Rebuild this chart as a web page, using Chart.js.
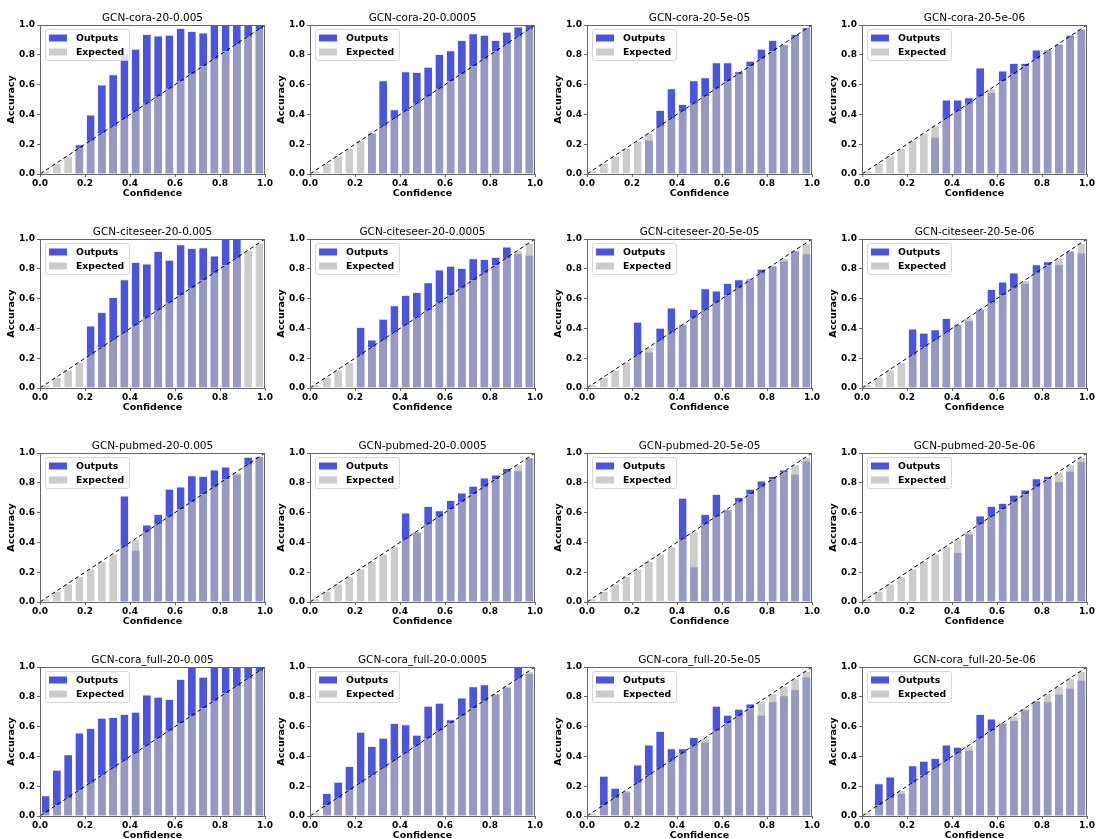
<!DOCTYPE html>
<html>
<head>
<meta charset="utf-8">
<script src="https://cdn.jsdelivr.net/npm/chart.js@4.4.0/dist/chart.umd.min.js"></script>
<style>
  body { margin: 0; background: #fff; overflow: hidden; }
  #fig { position: relative; width: 1098px; height: 839px; overflow: hidden; }
  #fig canvas { position: absolute; }
</style>
</head>
<body>
<div id="fig"></div>
<script>
// 20 confidence bins of width 0.05
const binCenters = [0.025, 0.075, 0.125, 0.175, 0.225, 0.275, 0.325, 0.375, 0.425, 0.475,
                    0.525, 0.575, 0.625, 0.675, 0.725, 0.775, 0.825, 0.875, 0.925, 0.975];
// expected accuracy = mean confidence of the bin
const expected = [0.025, 0.075, 0.125, 0.175, 0.225, 0.275, 0.325, 0.375, 0.425, 0.475,
                  0.525, 0.575, 0.625, 0.675, 0.725, 0.775, 0.825, 0.875, 0.925, 0.975];
const tickValues = [0, 0.2, 0.4, 0.6, 0.8, 1.0];

// observed accuracy per bin (0 = empty bin)
const cora_0005 = [0, 0, 0, 0.20, 0.40, 0.60, 0.67, 0.81, 0.84, 0.94, 0.93, 0.935, 0.98, 0.96, 0.95, 1.0, 1.0, 1.0, 1.0, 1.0];
const cora_00005 = [0, 0, 0, 0, 0, 0.28, 0.63, 0.435, 0.69, 0.685, 0.72, 0.805, 0.83, 0.90, 0.945, 0.935, 0.90, 0.955, 0.99, 1.0];
const cora_5e05 = [0, 0, 0, 0, 0, 0.23, 0.43, 0.575, 0.47, 0.63, 0.65, 0.75, 0.75, 0.69, 0.76, 0.84, 0.90, 0.87, 0.94, 0.985];
const cora_5e06 = [0, 0, 0, 0, 0, 0, 0.25, 0.50, 0.50, 0.515, 0.715, 0.55, 0.695, 0.745, 0.745, 0.835, 0.835, 0.875, 0.935, 0.975];

const citeseer_0005 = [0, 0, 0, 0, 0.42, 0.51, 0.61, 0.73, 0.845, 0.835, 0.92, 0.86, 0.965, 0.94, 0.945, 0.89, 1.0, 1.0, 0, 0];
const citeseer_00005 = [0, 0, 0, 0, 0.41, 0.325, 0.465, 0.555, 0.625, 0.645, 0.71, 0.795, 0.82, 0.805, 0.87, 0.865, 0.88, 0.95, 0.905, 0.895];
const citeseer_5e05 = [0, 0, 0, 0, 0.445, 0.245, 0.405, 0.54, 0.43, 0.53, 0.67, 0.655, 0.705, 0.73, 0.735, 0.80, 0.82, 0.855, 0.925, 0.905];
const citeseer_5e06 = [0, 0, 0, 0, 0.40, 0.37, 0.395, 0.47, 0.43, 0.455, 0.53, 0.665, 0.715, 0.775, 0.705, 0.83, 0.85, 0.83, 0.92, 0.91];

const pubmed_0005 = [0, 0, 0, 0, 0, 0, 0, 0.715, 0.35, 0.52, 0.59, 0.76, 0.775, 0.85, 0.845, 0.89, 0.91, 0.86, 0.975, 0.98];
const pubmed_00005 = [0, 0, 0, 0, 0, 0, 0, 0, 0.60, 0.47, 0.645, 0.615, 0.685, 0.735, 0.78, 0.835, 0.855, 0.90, 0.885, 0.97];
const pubmed_5e05 = [0, 0, 0, 0, 0, 0, 0, 0, 0.70, 0.24, 0.59, 0.725, 0.625, 0.705, 0.76, 0.815, 0.845, 0.89, 0.86, 0.95];
const pubmed_5e06 = [0, 0, 0, 0, 0, 0, 0, 0, 0.335, 0.46, 0.58, 0.645, 0.665, 0.72, 0.755, 0.83, 0.845, 0.81, 0.88, 0.945];

const corafull_0005 = [0.14, 0.31, 0.415, 0.56, 0.59, 0.66, 0.665, 0.685, 0.70, 0.815, 0.80, 0.785, 0.92, 1.0, 0.935, 1.0, 1.0, 1.0, 1.0, 1.0];
const corafull_00005 = [0, 0.155, 0.23, 0.335, 0.565, 0.47, 0.525, 0.625, 0.615, 0.545, 0.74, 0.76, 0.65, 0.795, 0.87, 0.885, 0.82, 0.865, 1.0, 0.96];
const corafull_5e05 = [0, 0.27, 0.19, 0.165, 0.345, 0.48, 0.57, 0.455, 0.455, 0.53, 0.50, 0.74, 0.68, 0.72, 0.755, 0.68, 0.77, 0.81, 0.85, 0.935];
const corafull_5e06 = [0, 0.22, 0.265, 0.155, 0.34, 0.37, 0.39, 0.48, 0.465, 0.445, 0.685, 0.655, 0.63, 0.645, 0.715, 0.775, 0.77, 0.82, 0.86, 0.915];

const panels = [
  ['GCN-cora-20-0.005', cora_0005], ['GCN-cora-20-0.0005', cora_00005],
  ['GCN-cora-20-5e-05', cora_5e05], ['GCN-cora-20-5e-06', cora_5e06],
  ['GCN-citeseer-20-0.005', citeseer_0005], ['GCN-citeseer-20-0.0005', citeseer_00005],
  ['GCN-citeseer-20-5e-05', citeseer_5e05], ['GCN-citeseer-20-5e-06', citeseer_5e06],
  ['GCN-pubmed-20-0.005', pubmed_0005], ['GCN-pubmed-20-0.0005', pubmed_00005],
  ['GCN-pubmed-20-5e-05', pubmed_5e05], ['GCN-pubmed-20-5e-06', pubmed_5e06],
  ['GCN-cora_full-20-0.005', corafull_0005], ['GCN-cora_full-20-0.0005', corafull_00005],
  ['GCN-cora_full-20-5e-05', corafull_5e05], ['GCN-cora_full-20-5e-06', corafull_5e06],
];

// plot area placement in the figure
const colLefts = [40, 310, 587, 862];
const rowTops = [25, 239, 453, 667];
const axW = 225, axH = 149;
const padL = 40, padT = 25, padB = 25;

const FONT = 'DejaVu Sans';
const BLUE = '#4b55dc';
const GRAY = 'rgba(182, 182, 182, 0.7)';

// matplotlib-like frame and in-axes legend
const framePlugin = {
  id: 'frame',
  afterDatasetsDraw(chart) {
    const a = chart.chartArea;
    const ctx = chart.ctx;
    ctx.save();
    ctx.strokeStyle = '#666';
    ctx.lineWidth = 1;
    ctx.strokeRect(a.left + 0.5, a.top + 0.5, a.right - a.left - 1, a.bottom - a.top);
    ctx.restore();
  },
  afterDraw(chart) {
    const a = chart.chartArea;
    const ctx = chart.ctx;
    const x = a.left + 5, y = a.top + 4;
    ctx.save();
    ctx.fillStyle = 'rgba(255, 255, 255, 0.8)';
    ctx.strokeStyle = 'rgba(204, 204, 204, 0.8)';
    ctx.lineWidth = 1;
    ctx.beginPath();
    ctx.roundRect(x + 0.5, y + 0.5, 84, 31, 2.5);
    ctx.fill();
    ctx.stroke();
    const items = [chart.data.datasets[2], chart.data.datasets[1]];
    items.forEach((ds, i) => {
      const cy = y + 9 + i * 14;
      ctx.fillStyle = ds.backgroundColor;
      ctx.fillRect(a.left + 9, cy - 3.5, 18, 7);
      ctx.fillStyle = '#000';
      ctx.font = 'bold 9.3px "' + FONT + '"';
      ctx.textBaseline = 'middle';
      ctx.textAlign = 'left';
      ctx.fillText(ds.label, a.left + 36, cy + 0.5);
    });
    ctx.restore();
  }
};

const axisCommon = (title) => ({
  type: 'linear',
  min: 0,
  max: 1,
  offset: false,
  grid: { display: true, drawOnChartArea: false, drawTicks: true, tickLength: 3, color: '#666', offset: false },
  border: { display: true, color: '#666', width: 1 },
  afterBuildTicks: (scale) => { scale.ticks = tickValues.map(v => ({ value: v })); },
  ticks: {
    color: '#000',
    font: { family: FONT, weight: 'bold', size: 9 },
    callback: (v) => Number(v).toFixed(1),
    maxRotation: 0,
    autoSkip: false,
  },
  title: { display: true, text: title, color: '#000', font: { family: FONT, weight: 'bold', size: 9.5 } },
});

const fig = document.getElementById('fig');

panels.forEach(([title, outputs], i) => {
  const canvas = document.createElement('canvas');
  canvas.width = padL + axW + padL;
  canvas.height = padT + axH + padB;
  canvas.style.left = (colLefts[i % 4] - padL) + 'px';
  canvas.style.top = (rowTops[Math.floor(i / 4)] - padT) + 'px';
  fig.appendChild(canvas);

  const xAxis = axisCommon('Confidence');
  xAxis.ticks.padding = 1;
  xAxis.title.padding = { top: 0, bottom: 0 };
  xAxis.afterFit = (s) => { s.height = padB; };

  const yAxis = axisCommon('Accuracy');
  yAxis.ticks.padding = 2;
  yAxis.title.padding = { top: 6, bottom: 0 };
  yAxis.afterFit = (s) => { s.width = padL; };

  new Chart(canvas, {
    type: 'bar',
    data: {
      datasets: [
        {
          type: 'line',
          label: 'diag',
          data: [{ x: 0, y: 0 }, { x: 1, y: 1 }],
          borderColor: '#000',
          borderWidth: 1,
          borderDash: [4, 3],
          pointRadius: 0,
          order: 0,
        },
        {
          label: 'Expected',
          data: binCenters.map((c, k) => ({ x: c, y: expected[k] })),
          backgroundColor: GRAY,
          borderColor: 'rgba(255, 255, 255, 0.45)',
          borderWidth: { top: 1, left: 0, right: 0, bottom: 0 },
          order: 1,
        },
        {
          label: 'Outputs',
          data: binCenters.map((c, k) => ({ x: c, y: outputs[k] > 0 ? outputs[k] : null })),
          backgroundColor: BLUE,
          borderColor: 'rgba(225, 228, 250, 0.9)',
          borderWidth: { top: 1, left: 0, right: 0, bottom: 0 },
          order: 2,
        },
      ],
    },
    options: {
      responsive: false,
      devicePixelRatio: 1,
      animation: false,
      events: [],
      layout: { padding: { left: 0, right: padL, top: 0, bottom: 0 } },
      datasets: { bar: { grouped: false, barPercentage: 0.7, categoryPercentage: 1 } },
      plugins: {
        legend: { display: false },
        tooltip: { enabled: false },
        title: {
          display: true,
          fullSize: false,
          text: title,
          color: '#000',
          font: { family: FONT, size: 10.5, weight: 'normal' },
          padding: { top: 12, bottom: 0.4 },
        },
      },
      scales: { x: xAxis, y: yAxis },
    },
    plugins: [framePlugin],
  });
});
</script>
</body>
</html>
